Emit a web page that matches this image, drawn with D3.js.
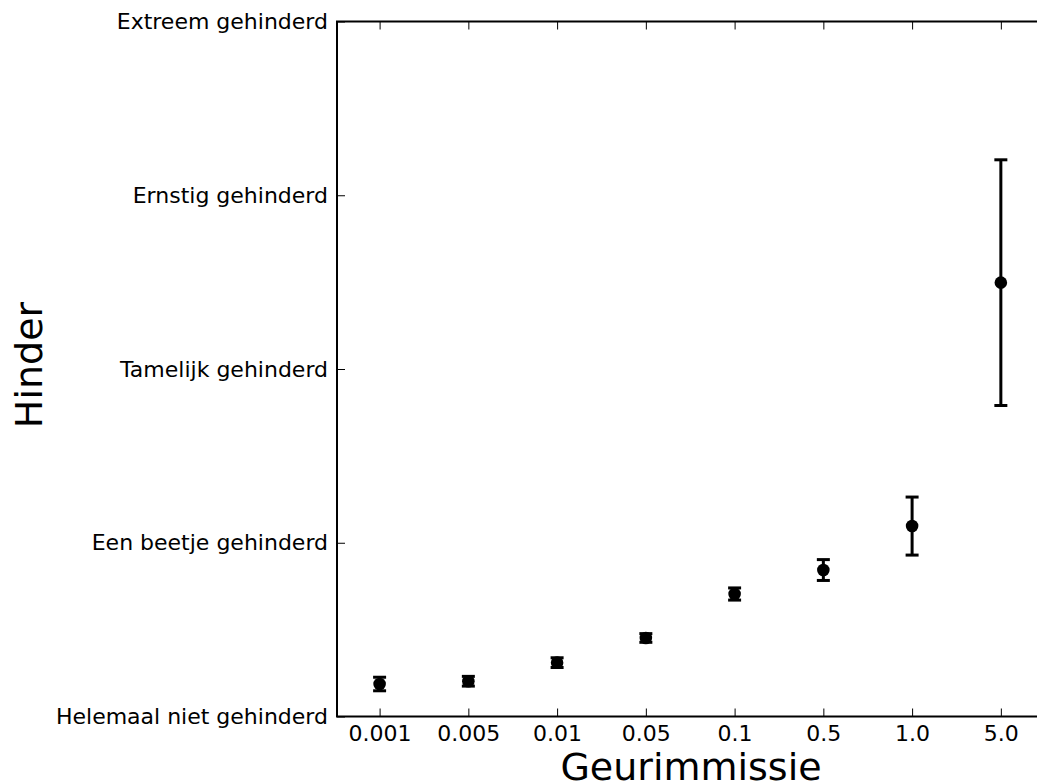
<!DOCTYPE html>
<html>
<head>
<meta charset="utf-8">
<script src="https://cdn.jsdelivr.net/npm/d3@7"></script>
<style>
  body { margin: 0; background: #fff; }
  svg { display: block; font-family: "DejaVu Sans", sans-serif; }
</style>
</head>
<body>
<svg id="chart" width="1037" height="782"></svg>
<script>
// categories on the x axis (odour immission)
var categories = ['0.001', '0.005', '0.01', '0.05', '0.1', '0.5', '1.0', '5.0'];
// mean annoyance and error (half-length of bar)
var means = [0.187, 0.203, 0.31, 0.452, 0.705, 0.843, 1.096, 2.497];
var errors = [0.039, 0.028, 0.028, 0.025, 0.035, 0.06, 0.167, 0.707];
// y tick labels
var yLabels = ['Helemaal niet gehinderd', 'Een beetje gehinderd', 'Tamelijk gehinderd', 'Ernstig gehinderd', 'Extreem gehinderd'];

var svg = d3.select('#chart');
var margin = {top: 21.5, left: 337},
    width = 710,
    height = 695;

var g = svg.append('g')
    .attr('transform', 'translate(' + margin.left + ',' + margin.top + ')');

var x = d3.scaleLinear()
    .domain([-0.48, 7.52])
    .range([0, width]);

var y = d3.scaleLinear()
    .domain([0, 4])
    .range([height, 0]);

var idx = d3.range(categories.length);

// frame
g.append('rect')
    .attr('width', width)
    .attr('height', height)
    .attr('fill', 'none')
    .attr('stroke', '#000')
    .attr('stroke-width', 2);

// bottom axis, ticks pointing inwards
var xAxis = g.append('g')
    .attr('transform', 'translate(0,' + height + ')')
    .call(d3.axisBottom(x).tickValues(idx).tickFormat(function(d){ return categories[d]; })
        .tickSizeInner(-8).tickSizeOuter(0).tickPadding(9));
// top ticks
var xTop = g.append('g')
    .call(d3.axisTop(x).tickValues(idx).tickFormat('').tickSizeInner(-8).tickSizeOuter(0));

var yAxis = g.append('g')
    .call(d3.axisLeft(y).tickValues([0, 1, 2, 3, 4]).tickFormat(function(d){ return yLabels[d]; })
        .tickSizeInner(-8).tickSizeOuter(0).tickPadding(9));
var yRight = g.append('g')
    .attr('transform', 'translate(' + width + ',0)')
    .call(d3.axisRight(y).tickValues([0, 1, 2, 3, 4]).tickFormat('').tickSizeInner(-8).tickSizeOuter(0));

[xAxis, xTop, yAxis, yRight].forEach(function(a){
    a.select('.domain').remove();
    a.selectAll('line').attr('stroke', '#000').attr('stroke-width', 1);
    a.selectAll('text')
        .attr('fill', '#000')
        .style('font-family', '"DejaVu Sans", sans-serif')
        .style('font-size', '22px');
});

// error bars
var bars = g.selectAll('.err')
    .data(idx)
    .enter()
    .append('g')
    .attr('class', 'err');

bars.append('line')
    .attr('x1', function(i){ return x(i); })
    .attr('x2', function(i){ return x(i); })
    .attr('y1', function(i){ return y(means[i] + errors[i]); })
    .attr('y2', function(i){ return y(means[i] - errors[i]); })
    .attr('stroke', '#000')
    .attr('stroke-width', 3);

bars.append('line')
    .attr('x1', function(i){ return x(i) - 6.5; })
    .attr('x2', function(i){ return x(i) + 6.5; })
    .attr('y1', function(i){ return y(means[i] + errors[i]); })
    .attr('y2', function(i){ return y(means[i] + errors[i]); })
    .attr('stroke', '#000')
    .attr('stroke-width', 3);

bars.append('line')
    .attr('x1', function(i){ return x(i) - 6.5; })
    .attr('x2', function(i){ return x(i) + 6.5; })
    .attr('y1', function(i){ return y(means[i] - errors[i]); })
    .attr('y2', function(i){ return y(means[i] - errors[i]); })
    .attr('stroke', '#000')
    .attr('stroke-width', 3);

bars.append('circle')
    .attr('cx', function(i){ return x(i); })
    .attr('cy', function(i){ return y(means[i]); })
    .attr('r', 6.3)
    .attr('fill', '#000');

// axis titles
svg.append('text')
    .text('Geurimmissie')
    .attr('x', margin.left + width / 2 - 1)
    .attr('y', 780)
    .attr('text-anchor', 'middle')
    .style('font-size', '38px');

svg.append('text')
    .text('Hinder')
    .attr('transform', 'translate(42,365) rotate(-90)')
    .attr('text-anchor', 'middle')
    .style('font-size', '38px');
</script>
</body>
</html>
